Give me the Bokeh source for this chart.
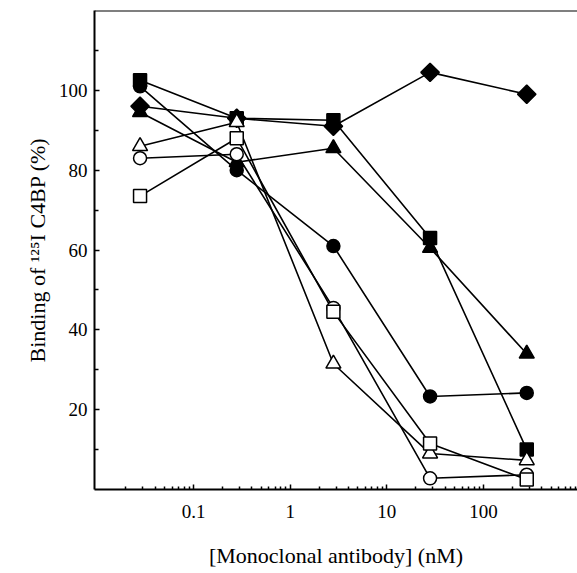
from bokeh.plotting import figure
from bokeh.models import FixedTicker, Span, Range1d
from bokeh.embed import file_html
from bokeh.resources import INLINE
import numpy as np

# ---- data ----
conc = [0.028, 0.28, 2.8, 28, 280]
diamond_filled = [96, 93, 91, 104.5, 99]
circle_filled = [101, 80, 61, 23.3, 24.2]
triangle_filled = [94.5, 82, 85.5, 60.5, 34]
square_filled = [102.5, 93, 92.5, 63, 10]
circle_open = [83, 84, 45.5, 2.8, 3.7]
triangle_open = [86, 92, 31.5, 9, 7.3]
square_open = [73.5, 88, 44.5, 11.5, 2.5]

x_major = [0.1, 1, 10, 100]
x_labels = ["0.1", "1", "10", "100"]
y_major = [20, 40, 60, 80, 100]
y_minor = [10, 30, 50, 70, 90, 110]

FONT = "Liberation Serif"

p = figure(width=577, height=573, x_axis_type="log",
           x_range=Range1d(0.00946, 938), y_range=Range1d(0, 120),
           output_backend="svg", toolbar_location=None,
           min_border_left=94, min_border_right=0, min_border_top=10, min_border_bottom=84)
p.outline_line_color = None
p.grid.visible = False
p.background_fill_color = "white"
p.border_fill_color = "white"

x_minor = [k * 10.0 ** e for e in range(-3, 3) for k in range(2, 10)]
x_minor = [v for v in x_minor if 0.00946 < v < 938]

xa = p.xaxis[0]
xa.ticker = FixedTicker(ticks=x_major, minor_ticks=x_minor)
xa.major_label_overrides = {v: s for v, s in zip(x_major, x_labels)}
xa.axis_label = "[Monoclonal antibody] (nM)"

ya = p.yaxis[0]
ya.ticker = FixedTicker(ticks=y_major, minor_ticks=y_minor)
ya.axis_label = "Binding of ¹²⁵I C4BP (%)"

for ax in (xa, ya):
    ax.axis_line_width = 2
    ax.axis_line_color = "black"
    ax.major_tick_in = 5
    ax.major_tick_out = 0
    ax.minor_tick_out = 0
    ax.major_tick_line_width = 1.5
    ax.minor_tick_line_width = 1.5
    ax.major_label_text_font = FONT
    ax.major_label_text_font_size = "19px"
    ax.major_label_text_color = "black"
    ax.axis_label_text_font = FONT
    ax.axis_label_text_font_size = "22px"
    ax.axis_label_text_font_style = "normal"
    ax.axis_label_text_color = "black"

xa.minor_tick_in = 3
ya.minor_tick_in = 4
xa.major_label_standoff = 15
xa.axis_label_standoff = 22
ya.major_label_standoff = 7
ya.axis_label_standoff = 6

p.add_layout(Span(location=120, dimension="width", line_color="black", line_width=2))

series = [
    (diamond_filled, "square", 13, np.pi / 4, "black"),
    (circle_filled, "circle", 13, 0, "black"),
    (triangle_filled, "triangle", 15, 0, "black"),
    (square_filled, "square", 13, 0, "black"),
    (circle_open, "circle", 13, 0, "white"),
    (triangle_open, "triangle", 15, 0, "white"),
    (square_open, "square", 13, 0, "white"),
]

for ys, *_ in series:
    p.line(conc, ys, line_color="black", line_width=1.6)

for ys, marker, size, ang, fill in series:
    p.scatter(conc, ys, marker=marker, size=size, angle=ang,
              fill_color=fill, line_color="black", line_width=1.5)

open("out.html", "w").write(file_html(p, INLINE))
